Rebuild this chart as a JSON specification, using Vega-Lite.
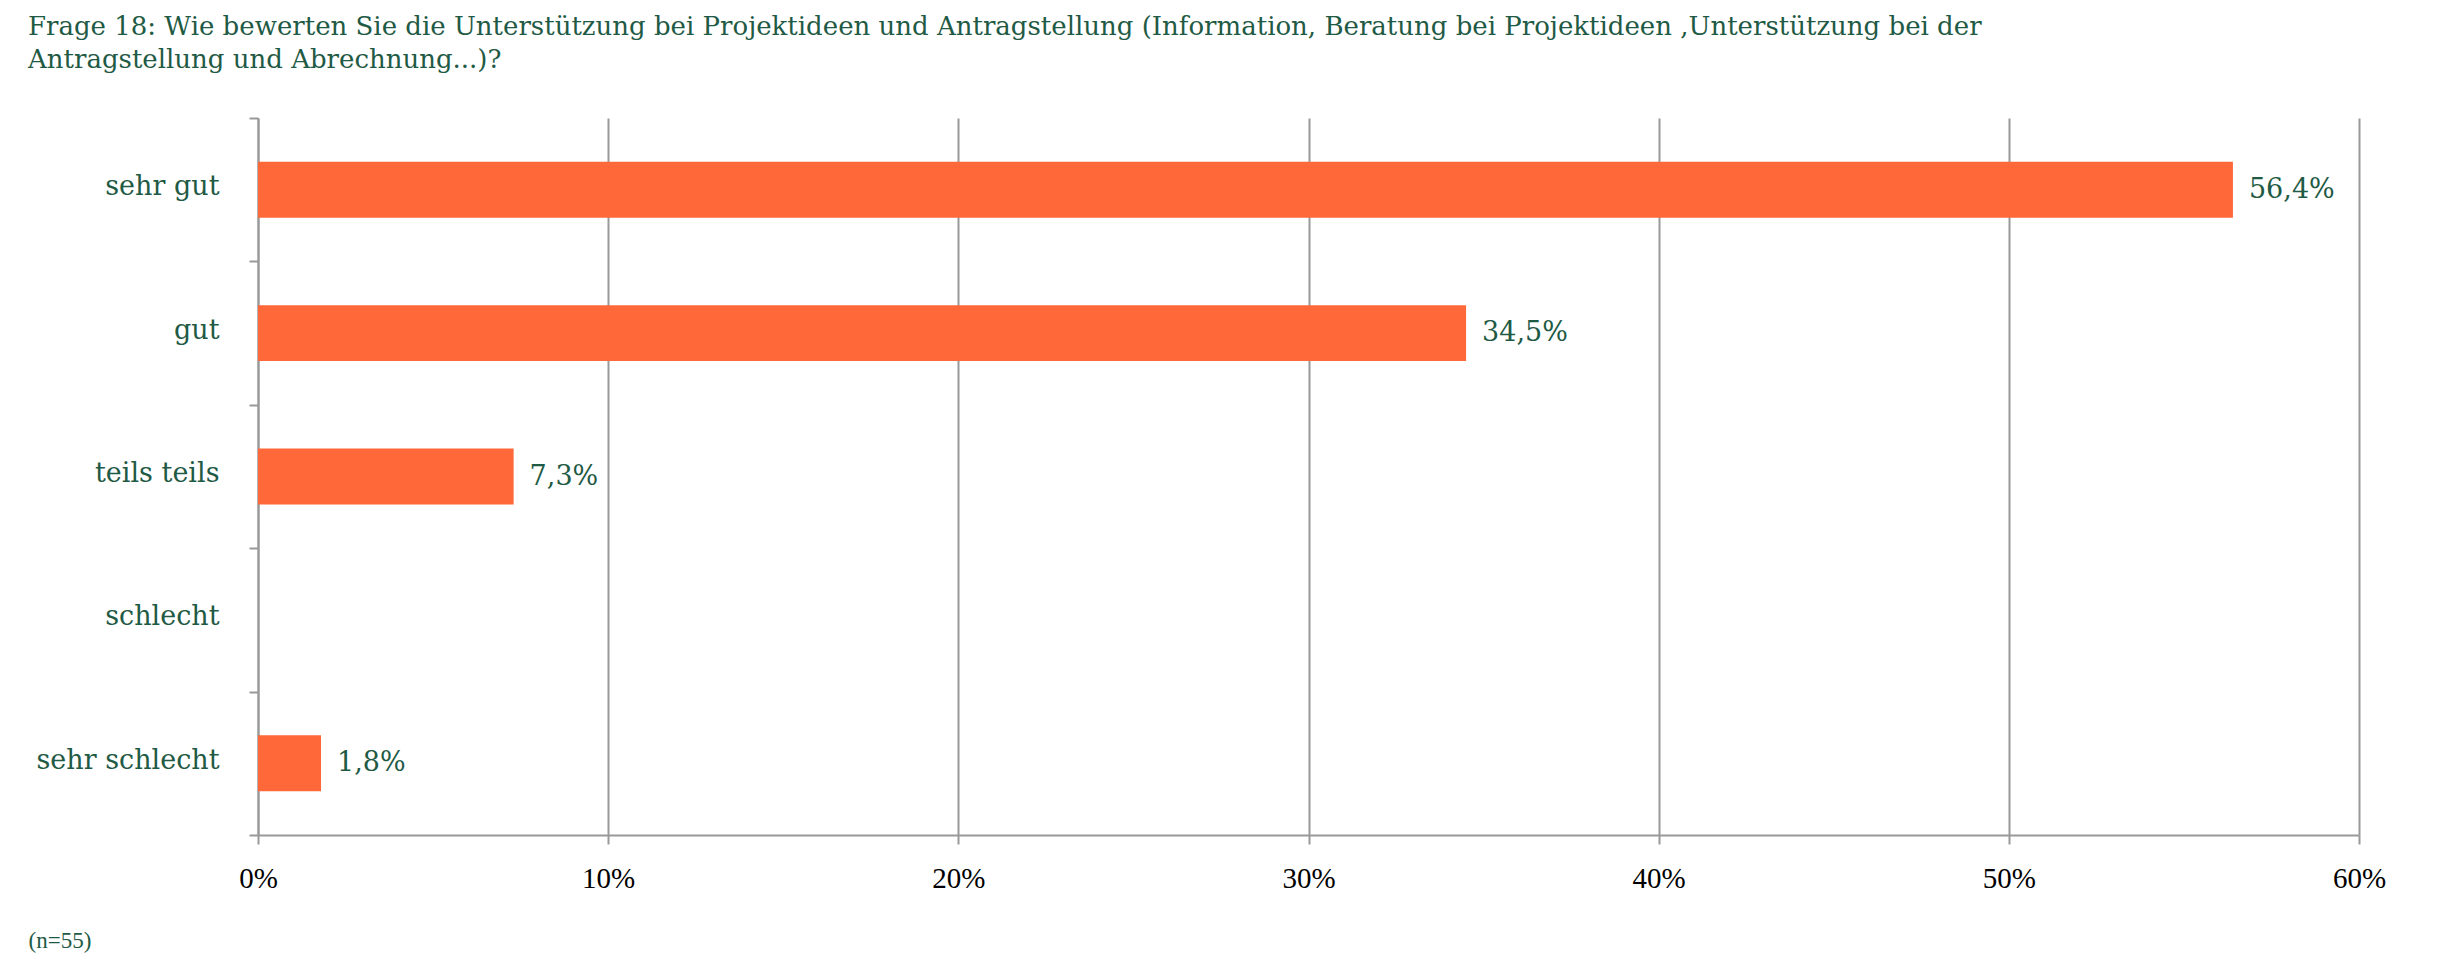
{
  "$schema": "https://vega.github.io/schema/vega-lite/v6.json",
  "width": 2101,
  "height": 717,
  "autosize": {"type": "none"},
  "padding": {"left": 258, "top": 118, "right": 78, "bottom": 125},
  "background": "white",
  "title": {
    "text": ["Frage 18: Wie bewerten Sie die Unterstützung bei Projektideen und Antragstellung (Information, Beratung bei Projektideen ,Unterstützung bei der", "Antragstellung und Abrechnung...)?"],
    "anchor": "start",
    "frame": "group",
    "dx": -230,
    "font": "DejaVu Serif",
    "fontSize": 26,
    "fontWeight": "normal",
    "color": "#1F5A45",
    "lineHeight": 33,
    "offset": 0,
    "dy": -31
  },
  "data": {
    "values": [
      {"antwort": "sehr gut", "anteil": 0.564},
      {"antwort": "gut", "anteil": 0.345},
      {"antwort": "teils teils", "anteil": 0.073},
      {"antwort": "schlecht", "anteil": 0},
      {"antwort": "sehr schlecht", "anteil": 0.018}
    ]
  },
  "encoding": {
    "y": {
      "field": "antwort",
      "type": "nominal",
      "sort": null,
      "scale": {"paddingInner": 0, "paddingOuter": 0},
      "axis": {
        "title": null,
        "domain": true,
        "domainColor": "#999999",
        "domainWidth": 2,
        "ticks": true,
        "tickBand": "extent",
        "tickSize": 9,
        "tickColor": "#999999",
        "tickWidth": 2,
        "grid": false,
        "labelFont": "DejaVu Serif",
        "labelFontSize": 27,
        "labelColor": "#1F5A45",
        "labelPadding": 30,
        "labelOffset": -3,
        "labelLimit": 0
      }
    },
    "x": {
      "field": "anteil",
      "type": "quantitative",
      "scale": {"domain": [0, 0.6], "nice": false},
      "axis": {
        "values": [0, 0.1, 0.2, 0.3, 0.4, 0.5, 0.6],
        "format": ".0%",
        "title": "(n=55)",
        "titleFont": "Liberation Serif",
        "titleFontSize": 23,
        "titleFontWeight": "normal",
        "titleColor": "#1F5A45",
        "titleAnchor": "start",
        "titleAlign": "left",
        "titleBaseline": "middle",
        "titleX": -230,
        "titleY": 105,
        "domain": true,
        "domainColor": "#999999",
        "domainWidth": 2,
        "ticks": true,
        "tickSize": 9,
        "tickColor": "#999999",
        "tickWidth": 2,
        "grid": true,
        "gridColor": "#999999",
        "gridWidth": 2,
        "labelFont": "Liberation Serif",
        "labelFontSize": 29,
        "labelColor": "#000000",
        "labelPadding": 20,
        "labelFlush": false
      }
    }
  },
  "layer": [
    {"mark": {"type": "bar", "color": "#FF6939", "height": {"band": 0.39}}},
    {
      "transform": [{"filter": "datum.anteil > 0"}],
      "mark": {"type": "text", "align": "left", "baseline": "middle", "dx": 16, "font": "DejaVu Serif", "fontSize": 27, "color": "#1F5A45"},
      "encoding": {"text": {"field": "anteil", "type": "quantitative", "format": ".1%"}}
    }
  ],
  "config": {
    "locale": {"number": {"decimal": ",", "thousands": ".", "grouping": [3], "currency": ["", " €"]}},
    "view": {"stroke": null}
  }
}
